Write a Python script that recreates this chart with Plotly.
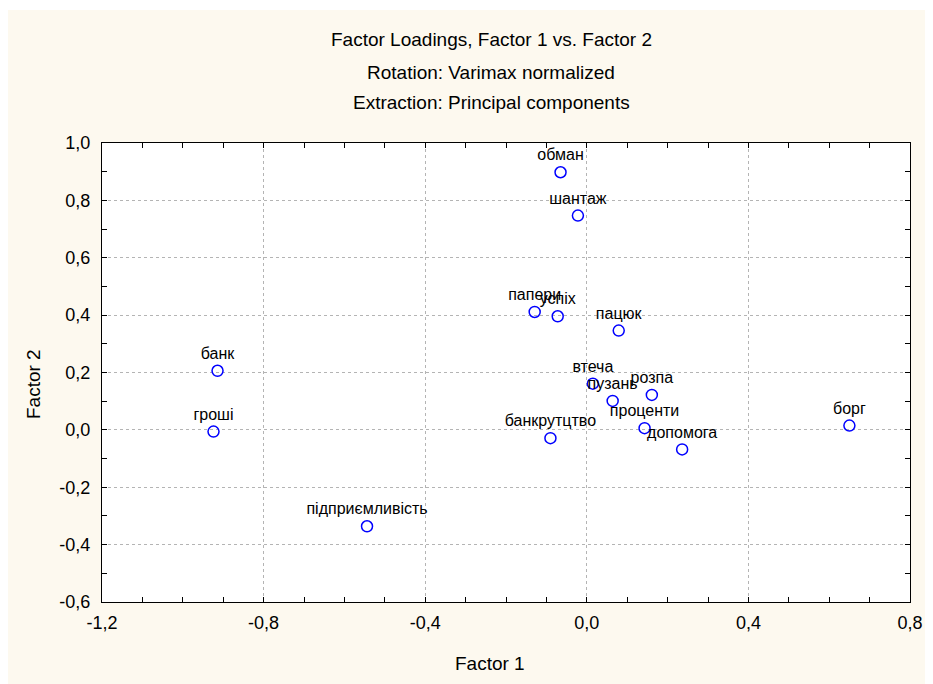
import plotly.graph_objects as go

# ---- data ----
words = ["обман", "шантаж", "папери", "успіх", "пацюк", "банк", "втеча", "пузань",
         "розпа", "гроші", "проценти", "банкрутцтво", "допомога", "борг", "підприємливість"]
factor1 = [-0.065, -0.022, -0.129, -0.072, 0.079, -0.914, 0.015, 0.064,
           0.161, -0.924, 0.143, -0.090, 0.236, 0.650, -0.544]
factor2 = [0.898, 0.747, 0.411, 0.396, 0.346, 0.206, 0.161, 0.101,
           0.122, -0.006, 0.006, -0.029, -0.068, 0.015, -0.336]

x_tickvals = [-1.2, -0.8, -0.4, 0.0, 0.4, 0.8]
x_ticktext = ["-1,2", "-0,8", "-0,4", "0,0", "0,4", "0,8"]
y_tickvals = [-0.6, -0.4, -0.2, 0.0, 0.2, 0.4, 0.6, 0.8, 1.0]
y_ticktext = ["-0,6", "-0,4", "-0,2", "0,0", "0,2", "0,4", "0,6", "0,8", "1,0"]
x_minor = [round(-1.2 + 0.1 * i, 1) for i in range(21)]
y_minor = [round(-0.6 + 0.1 * i, 1) for i in range(17)]

title_lines = ["Factor Loadings, Factor 1 vs. Factor 2",
               "Rotation: Varimax normalized",
               "Extraction: Principal components"]

# ---- layout geometry (figure pixels; page is offset by 8px body margin) ----
W, H = 933, 684
OFF = 8
L, R, T, B = 94, 31, 135, 90
FONT = "Arial, Liberation Sans, sans-serif"


def pxx(page_px):
    return (page_px - OFF - L) / (W - L - R)


def pxy(page_py):
    return (H - B - (page_py - OFF)) / (H - T - B)


fig = go.Figure()
fig.add_trace(go.Scatter(
    x=factor1, y=factor2, mode="markers+text", text=words,
    textposition="top center",
    textfont=dict(family=FONT, size=16, color="black"),
    marker=dict(symbol="circle-open", size=11, color="#0000FF",
                line=dict(width=1.5, color="#0000FF")),
    cliponaxis=False, showlegend=False,
))

axis_common = dict(
    showline=True, linecolor="black", linewidth=1, mirror="ticks",
    ticks="inside", ticklen=5, tickcolor="black",
    showgrid=True, gridcolor="#b4b4b4", griddash="dot", gridwidth=1,
    zeroline=False, tickfont=dict(family=FONT, size=18, color="black"),
)

fig.update_xaxes(range=[-1.2, 0.8], tickmode="array", tickvals=x_tickvals,
                 ticktext=x_ticktext, ticklabelstandoff=4,
                 minor=dict(tickmode="array", tickvals=x_minor, ticks="inside",
                            ticklen=5, tickcolor="black", showgrid=False),
                 **axis_common)
fig.update_yaxes(range=[-0.6, 1.0], tickmode="array", tickvals=y_tickvals,
                 ticktext=y_ticktext, ticklabelstandoff=7,
                 minor=dict(tickmode="array", tickvals=y_minor, ticks="inside",
                            ticklen=5, tickcolor="black", showgrid=False),
                 **axis_common)

annotations = []
for line, py in zip(title_lines, [40, 72, 103]):
    annotations.append(dict(text=line, x=pxx(491), y=pxy(py), xref="paper", yref="paper",
                            showarrow=False, xanchor="center", yanchor="middle",
                            font=dict(family=FONT, size=19, color="black")))
annotations.append(dict(text="Factor 1", x=pxx(490), y=pxy(663), xref="paper", yref="paper",
                        showarrow=False, xanchor="center", yanchor="middle",
                        font=dict(family=FONT, size=19, color="black")))
annotations.append(dict(text="Factor 2", x=pxx(33), y=pxy(384), xref="paper", yref="paper",
                        showarrow=False, xanchor="center", yanchor="middle", textangle=-90,
                        font=dict(family=FONT, size=19, color="black")))

fig.update_layout(
    width=W, height=H,
    margin=dict(l=L, r=R, t=T, b=B, pad=0),
    paper_bgcolor="#FDF9EF", plot_bgcolor="white",
    annotations=annotations,
    shapes=[dict(type="rect", xref="paper", yref="paper", layer="below",
                 x0=pxx(0), x1=pxx(W + 20), y0=pxy(10), y1=pxy(-20),
                 fillcolor="white", line=dict(width=0))],
)

fig.write_html("out.html")
